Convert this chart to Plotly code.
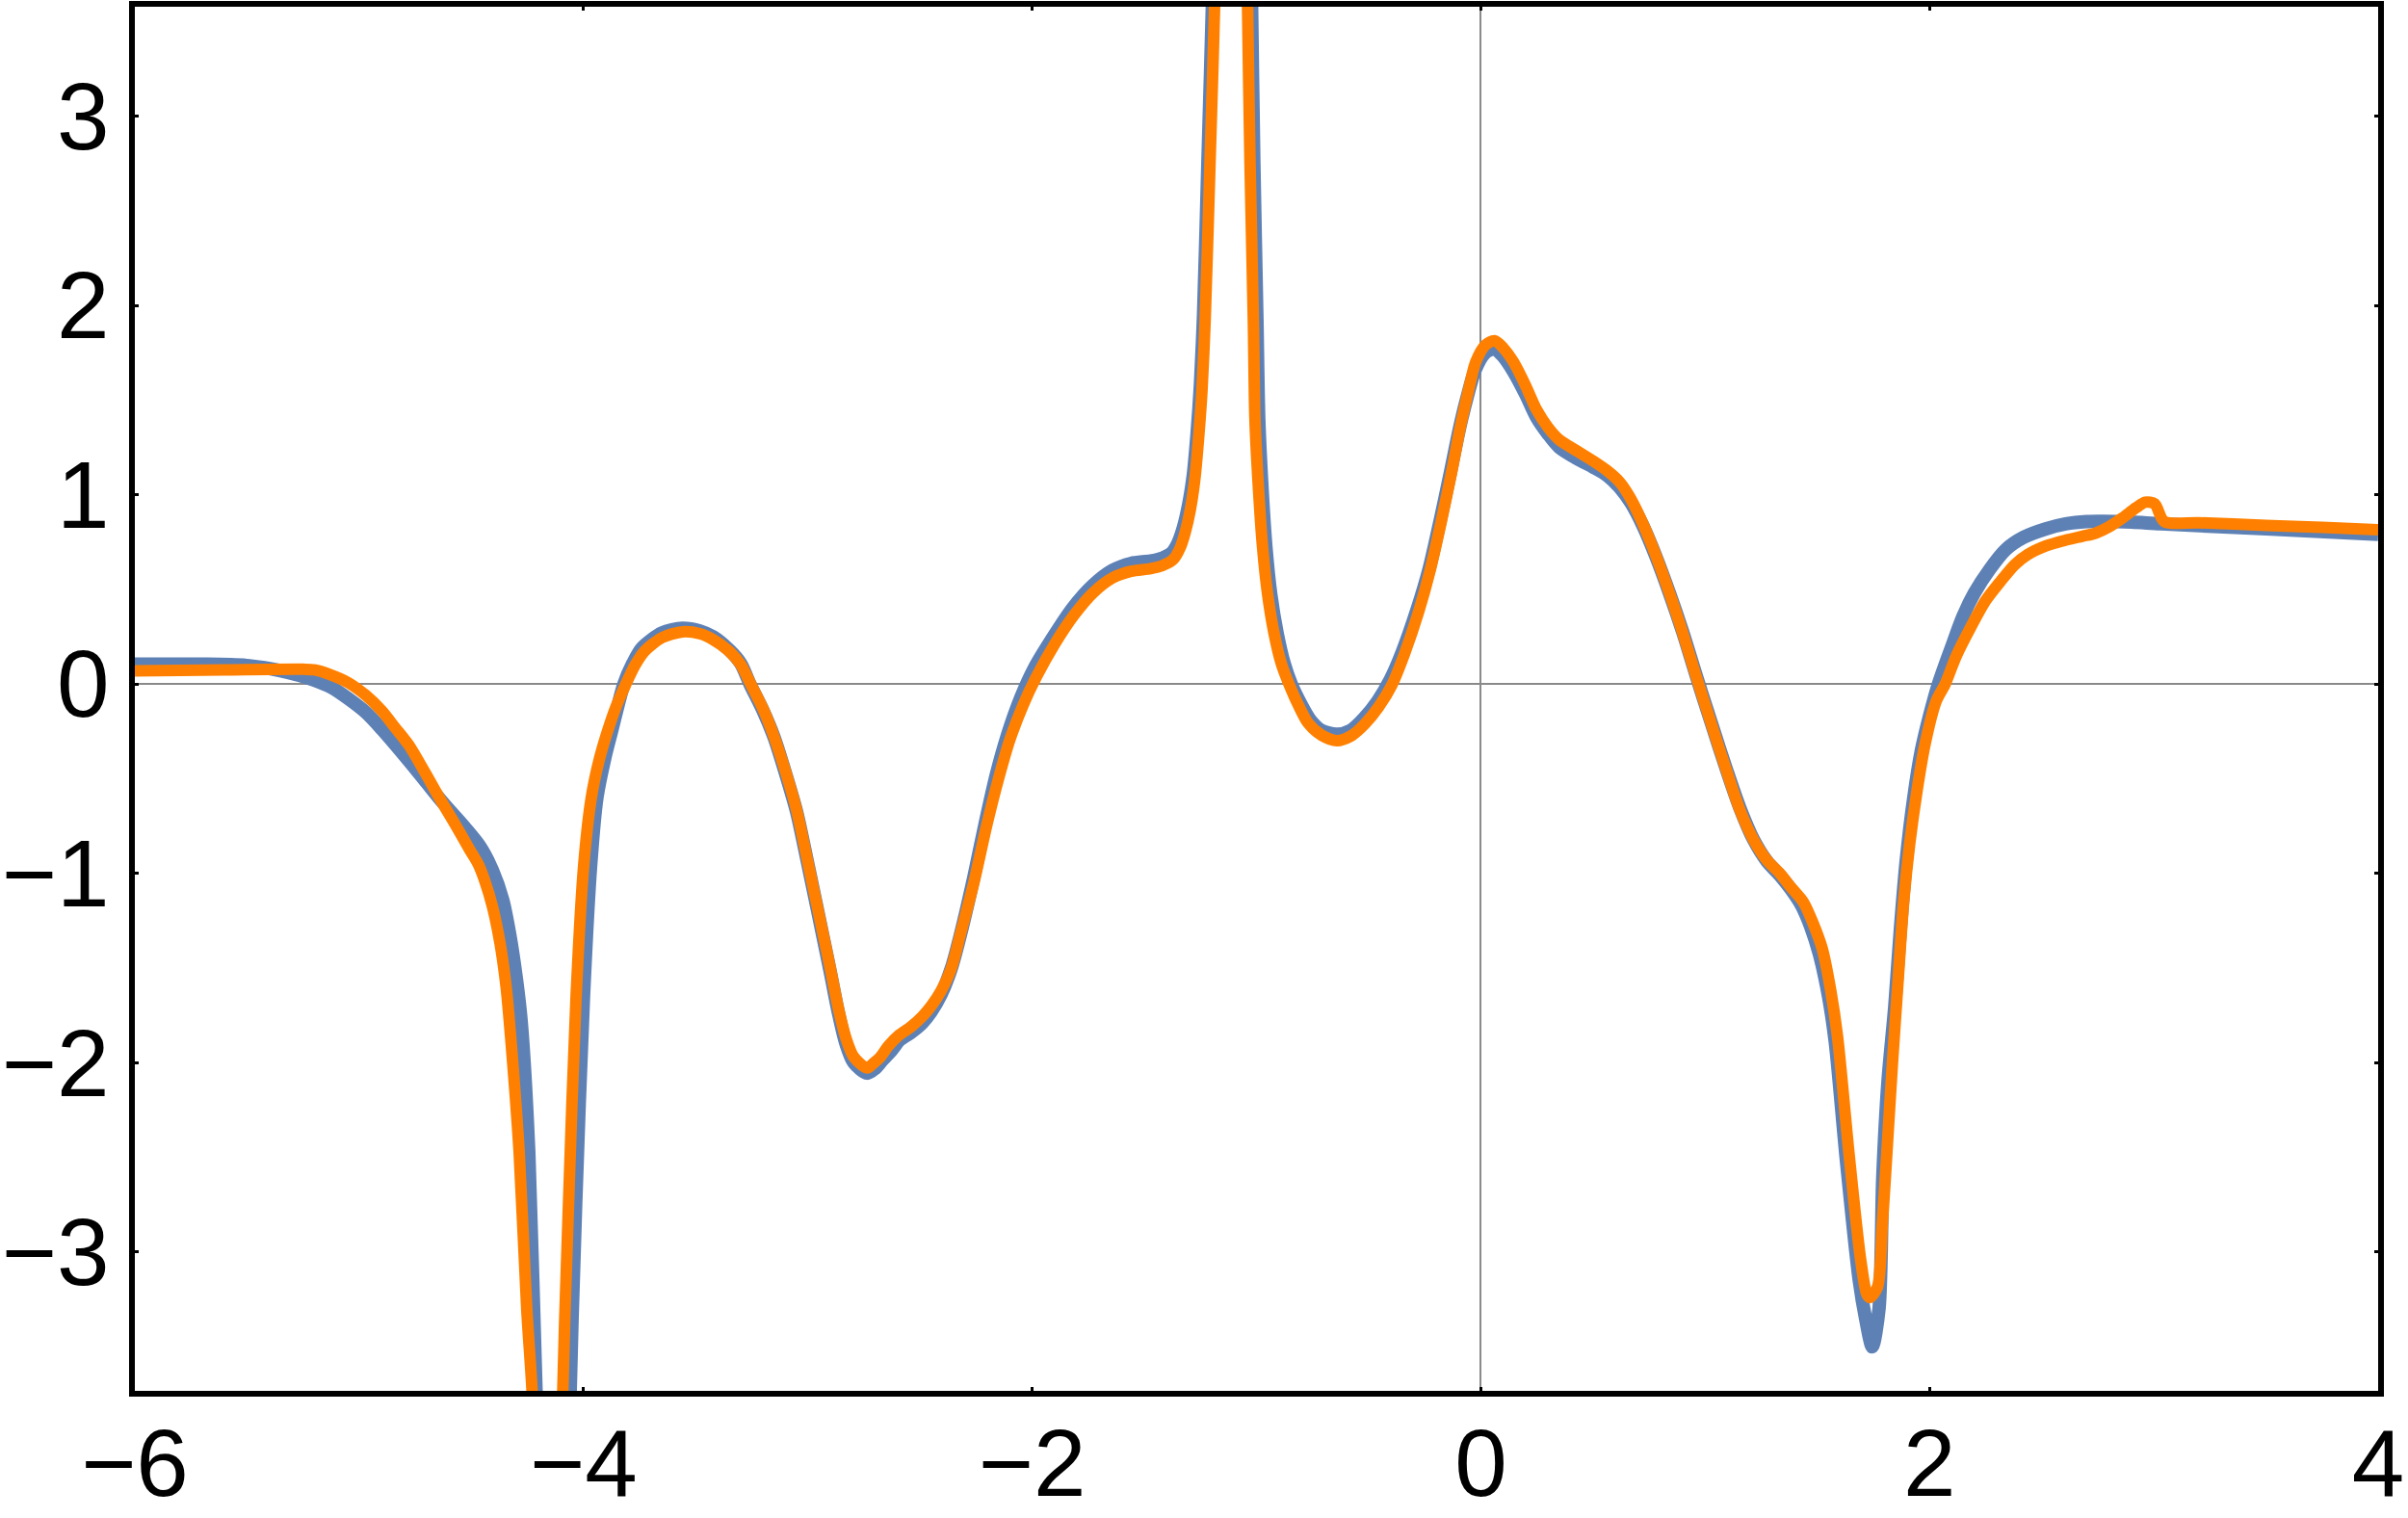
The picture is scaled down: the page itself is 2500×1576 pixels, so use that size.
import plotly.graph_objects as go

# values (off-scale points let the spikes leave the frame)
blue_x = [-6.0, -5.7, -5.49, -5.35, -5.203, -5.12, -5.051, -4.97, -4.898, -4.779, -4.7, -4.627,
          -4.525, -4.46, -4.406, -4.36, -4.33, -4.3, -4.278, -4.244, -4.211, -4.18, -4.14,
          -4.09, -4.06, -4.035, -4.0, -3.968, -3.94, -3.905, -3.875, -3.82, -3.78, -3.74, -3.65,
          -3.56, -3.48, -3.423, -3.355, -3.3, -3.258, -3.2, -3.151, -3.1, -3.05, -3.0, -2.948,
          -2.9, -2.863, -2.83, -2.795, -2.736, -2.7, -2.67, -2.63, -2.59, -2.54, -2.49, -2.45,
          -2.406, -2.36, -2.321, -2.26, -2.21, -2.16, -2.11, -2.05, -1.99, -1.9, -1.82, -1.73,
          -1.642, -1.56, -1.472, -1.42, -1.38, -1.35, -1.325, -1.302, -1.282, -1.265, -1.25,
          -1.236, -1.216, -1.196, -1.17, -1.14,
          -1.045, -1.03, -1.022, -1.012, -0.998, -0.99, -0.977, -0.958, -0.936, -0.908, -0.877,
          -0.845, -0.8, -0.76, -0.71, -0.642, -0.58, -0.52, -0.46, -0.405, -0.35, -0.285, -0.23,
          -0.18, -0.135, -0.095, -0.06, -0.025, 0.02, 0.061, 0.1, 0.146, 0.2, 0.248, 0.3, 0.35,
          0.43, 0.502, 0.565, 0.621, 0.67, 0.723, 0.78, 0.841, 0.9, 0.96, 1.03, 1.096, 1.155,
          1.215, 1.275, 1.333, 1.38, 1.43, 1.47, 1.51, 1.55, 1.58, 1.63, 1.687, 1.715, 1.745,
          1.775, 1.792, 1.815, 1.845, 1.87, 1.896, 1.93, 1.964, 2.0, 2.04, 2.1, 2.15, 2.2, 2.268,
          2.34, 2.42, 2.52, 2.607, 2.7, 2.776, 2.9, 3.03, 3.5, 4.0]
blue_y = [0.105, 0.105, 0.097, 0.07, 0.022, -0.02, -0.075, -0.15, -0.24, -0.405, -0.52, -0.626,
          -0.763, -0.86, -0.984, -1.14, -1.315, -1.55, -1.78, -2.47, -3.76, -4.6, -6.0,
          -6.0, -3.76, -2.75, -1.65, -0.956, -0.598, -0.39, -0.25, 0.0, 0.11, 0.19, 0.27,
          0.295, 0.28, 0.25, 0.185, 0.11, 0.0, -0.14, -0.28, -0.47, -0.675, -0.95, -1.245,
          -1.52, -1.74, -1.9, -2.0, -2.055, -2.03, -1.99, -1.94, -1.88, -1.84, -1.79, -1.73,
          -1.64, -1.5, -1.33, -1.02, -0.74, -0.48, -0.27, -0.07, 0.085, 0.26, 0.4, 0.52,
          0.6, 0.637, 0.65, 0.665, 0.69, 0.745, 0.83, 0.95, 1.1, 1.32, 1.58,
          1.95, 2.78, 3.61, 5.0, 6.0,
          6.0, 4.5, 3.6, 2.76, 1.918, 1.404, 1.068, 0.723, 0.47, 0.269, 0.11,
          0.0, -0.11, -0.19, -0.245, -0.265, -0.245, -0.18, -0.09, 0.02, 0.17, 0.39, 0.61,
          0.87, 1.12, 1.35, 1.52, 1.66, 1.75, 1.77, 1.73, 1.65, 1.53, 1.41, 1.32, 1.25,
          1.19, 1.145, 1.1, 1.035, 0.955, 0.835, 0.675, 0.48, 0.275, 0.045, -0.215, -0.455, -0.655,
          -0.82, -0.935, -1.01, -1.08, -1.17, -1.28, -1.43, -1.65, -1.89, -2.52, -3.15, -3.35, -3.5,
          -3.3, -2.6, -2.1, -1.707, -1.3, -0.936, -0.6, -0.35, -0.17, 0.0, 0.2, 0.359, 0.48, 0.605,
          0.71, 0.775, 0.82, 0.846, 0.858, 0.859, 0.855, 0.846, 0.82, 0.791]

orange_x = [-6.0, -5.6, -5.25, -5.2, -5.13, -5.05, -4.97, -4.898, -4.84, -4.779, -4.71, -4.644,
            -4.575, -4.508, -4.47, -4.44, -4.405, -4.372, -4.345, -4.321, -4.287, -4.253, -4.228,
            -4.2, -4.16,
            -4.12, -4.093, -4.067, -4.033, -3.999, -3.965, -3.93, -3.898, -3.855, -3.813, -3.77,
            -3.728, -3.65, -3.558, -3.48, -3.423, -3.355, -3.3, -3.253, -3.2, -3.151, -3.1, -3.05,
            -3.0, -2.948, -2.9, -2.863, -2.83, -2.795, -2.736, -2.705, -2.677, -2.64, -2.592,
            -2.54, -2.49, -2.45, -2.406, -2.36, -2.321, -2.26, -2.202, -2.15, -2.1, -2.04, -1.982,
            -1.9, -1.812, -1.73, -1.642, -1.56, -1.472, -1.42, -1.371, -1.34, -1.318, -1.295,
            -1.275, -1.258, -1.243, -1.229, -1.207, -1.186, -1.16, -1.14,
            -1.06, -1.05, -1.04, -1.029, -1.014, -1.007, -0.993, -0.973, -0.95, -0.922, -0.89,
            -0.854, -0.81, -0.769, -0.71, -0.642, -0.58, -0.515, -0.455, -0.396, -0.34, -0.277,
            -0.226, -0.176, -0.13, -0.091, -0.055, -0.023, 0.02, 0.061, 0.1, 0.146, 0.2, 0.248,
            0.3, 0.35, 0.43, 0.502, 0.565, 0.621, 0.67, 0.723, 0.78, 0.841, 0.9, 0.96, 1.03,
            1.096, 1.155, 1.215, 1.275, 1.333, 1.38, 1.438, 1.48, 1.522, 1.56, 1.59, 1.641,
            1.692, 1.72, 1.734, 1.768, 1.79, 1.81, 1.835, 1.861, 1.885, 1.912, 1.945, 1.98,
            2.03, 2.07, 2.12, 2.183, 2.25, 2.318, 2.38, 2.437, 2.52, 2.607, 2.68, 2.741, 2.8,
            2.86, 2.92, 2.962, 3.004, 3.046, 3.2, 3.5, 3.75, 4.0]
orange_y = [0.07, 0.075, 0.078, 0.075, 0.05, 0.008, -0.06, -0.143, -0.23, -0.322, -0.46, -0.598,
            -0.735, -0.874, -0.95, -1.04, -1.18, -1.37, -1.6, -1.92, -2.47, -3.3, -3.76,
            -4.6, -6.0,
            -6.0, -3.76, -2.75, -1.65, -0.956, -0.598, -0.4, -0.268, -0.12, -0.005, 0.1,
            0.173, 0.245, 0.276, 0.265, 0.235, 0.178, 0.105, -0.004, -0.13, -0.276, -0.46, -0.666,
            -0.94, -1.23, -1.5, -1.717, -1.87, -1.97, -2.028, -2.0, -1.97, -1.91, -1.853,
            -1.81, -1.756, -1.7, -1.62, -1.5, -1.327, -1.05, -0.744, -0.5, -0.296, -0.11, 0.036,
            0.21, 0.366, 0.48, 0.56, 0.595, 0.609, 0.625, 0.658, 0.72, 0.8, 0.92,
            1.08, 1.3, 1.55, 1.918, 2.76, 3.61, 5.0, 6.0,
            6.0, 4.5, 3.6, 2.76, 1.918, 1.404, 1.068, 0.723, 0.47, 0.269, 0.11,
            -0.004, -0.12, -0.208, -0.27, -0.299, -0.275, -0.208, -0.12, -0.004, 0.16, 0.382,
            0.6, 0.86, 1.12, 1.359, 1.55, 1.7, 1.79, 1.813, 1.775, 1.7, 1.575, 1.45,
            1.355, 1.29, 1.23, 1.177, 1.125, 1.064, 0.975, 0.845, 0.68, 0.48, 0.27, 0.04, -0.22,
            -0.46, -0.665, -0.821, -0.93, -1.0, -1.07, -1.152, -1.26, -1.398, -1.62, -1.861, -2.477,
            -3.03, -3.22, -3.24, -3.186, -2.85, -2.477, -2.0, -1.55, -1.15, -0.843, -0.56, -0.319,
            -0.09, 0.0, 0.15, 0.298, 0.44, 0.544, 0.63, 0.683, 0.73, 0.76, 0.78, 0.797, 0.83,
            0.877, 0.93, 0.96, 0.951, 0.859, 0.852, 0.838, 0.827, 0.815]

x_ticks = [-6, -4, -2, 0, 2, 4]
y_ticks = [-3, -2, -1, 0, 1, 2, 3]

BLUE = '#5E81B5'
ORANGE = '#FF8000'
FONT = 'Liberation Sans, Arial, sans-serif'


def frame_axis(ticks, rng):
    return dict(
        range=rng,
        tickvals=ticks,
        automargin=False,
        showgrid=False,
        zeroline=True,
        zerolinecolor='#8a8a8a',
        zerolinewidth=1.5,
        showline=True,
        linecolor='black',
        linewidth=6,
        mirror='ticks',
        ticks='inside',
        ticklen=4,
        tickwidth=3,
        tickcolor='black',
        tickfont=dict(family=FONT, size=98, color='black'),
    )


fig = go.Figure()
fig.add_trace(go.Scatter(x=blue_x, y=blue_y, mode='lines',
                         line=dict(color=BLUE, width=14, shape='spline', smoothing=0.8),
                         showlegend=False))
fig.add_trace(go.Scatter(x=orange_x, y=orange_y, mode='lines',
                         line=dict(color=ORANGE, width=12, shape='spline', smoothing=0.8),
                         showlegend=False))

fig.update_xaxes(**frame_axis(x_ticks, [-6, 4]), ticklabelstandoff=-15)
fig.update_yaxes(**frame_axis(y_ticks, [-3.733, 3.577]), ticklabelstandoff=1)

fig.update_layout(
    width=2500, height=1576,
    margin=dict(l=140, r=31, t=7, b=132),
    paper_bgcolor='white',
    plot_bgcolor='white',
)

# drop the page's default body margin so the figure sits at the window corner
fig.write_html("out.html", config={'displayModeBar': False},
               post_script="document.body.style.margin='0px';")
